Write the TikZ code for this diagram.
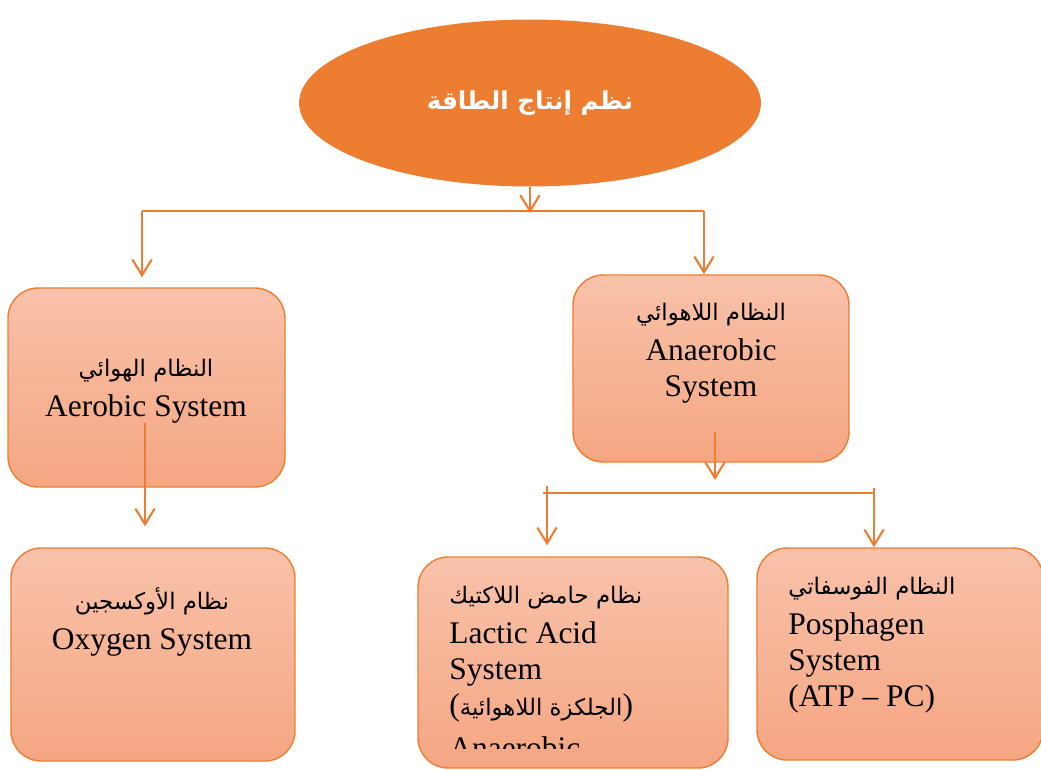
\documentclass[tikz,border=0pt]{standalone}
\usepackage{fontspec}
\setmainfont{Liberation Serif}
\newfontfamily\arabicfont[Script=Arabic]{DejaVu Sans}
\TeXXeTstate=1
\usetikzlibrary{arrows.meta,calc,shapes.geometric}
\usetikzlibrary{positioning}
\definecolor{accorange}{RGB}{237,125,49}
\definecolor{peachtop}{RGB}{248,194,170}
\definecolor{peachbot}{RGB}{245,166,130}
\newcommand{\ar}[1]{{\arabicfont\fontsize{13}{16}\selectfont\beginR #1\endR}}

\begin{document}
\begin{tikzpicture}[x=0.02cm,y=-0.02cm,>={Straight Barb[length=9pt,width=11pt]}]
\tikzset{sysbox/.style={draw=accorange,line width=0.8pt,rounded corners=0.6cm,top color=peachtop,bottom color=peachbot},
  systext/.style={font=\fontsize{17.9}{20.4}\selectfont,inner sep=0pt},
  link/.style={draw=accorange,line width=1.2pt}}
\useasboundingbox (0,0) rectangle (1041,769);
% title
\node[ellipse,fill=accorange,minimum width=9.24cm,minimum height=3.34cm] (title) at (530,103)
  {\raisebox{3.4pt}{\color{white}\bfseries\arabicfont\fontsize{14}{17}\selectfont\beginR نظم إنتاج الطاقة\endR}};
% boxes
\node[sysbox,minimum width=5.54cm,minimum height=3.98cm] (aerobic) at (146.5,387.5) {};
\node[sysbox,minimum width=5.52cm,minimum height=3.74cm] (anaerobic) at (711,368.5) {};
\node[sysbox,minimum width=5.68cm,minimum height=4.26cm] (oxygen) at (153,654.5) {};
\node[sysbox,minimum width=6.2cm,minimum height=4.22cm] (lactic) at (573,662.5) {};
\node[sysbox,minimum width=5.72cm,minimum height=4.24cm] (phos) at (900,654) {};
% texts
\node[systext,align=center,anchor=north] (aerobic-t) at (146,358.5) {\ar{النظام الهوائي}\\[2.5pt]Aerobic System};
\node[systext,align=center,anchor=north] (anaerobic-t) at (711,303) {\ar{النظام اللاهوائي}\\[2.5pt]Anaerobic\\System};
\node[systext,align=center,anchor=north] (oxygen-t) at (152,587) {\ar{نظام الأوكسجين}\\[2.5pt]Oxygen System};
\begin{scope}
\clip (418,557) rectangle (728,748);
\node[systext,align=left,anchor=north west] (lactic-t) at (449,585.5) {\ar{نظام حامض اللاكتيك}\\[2.5pt]Lactic Acid\\System\\(\ar{الجلكزة اللاهوائية})\\[4pt]Anaerobic};
\end{scope}
\node[systext,align=left,anchor=north west] (phos-t) at (788,577) {\ar{النظام الفوسفاتي}\\[2.5pt]Posphagen\\System\\(ATP -- PC)};
% top split
\coordinate (split) at (530,213);
\coordinate (splitL) at (142,211);
\coordinate (splitR) at (704,211);
\draw[link,->] (title.south) -- (split);
\draw[link] (splitL) -- (splitR);
\draw[link,->,shorten >=0.2cm] (splitL) -- (splitL |- aerobic.north);
\draw[link,->] (splitR) -- (splitR |- anaerobic.north);
% aerobic to oxygen
\coordinate (aerobicout) at (145,423);
\draw[link,->,shorten >=0.42cm] (aerobicout) -- (aerobicout |- oxygen.north);
% anaerobic split
\coordinate (anaerout) at (715,432);
\coordinate (fork) at (715,480);
\coordinate (forkL) at (547,493);
\coordinate (forkR) at (874,493);
\draw[link,->] (anaerout) -- (fork);
\draw[link] ($(forkL)+(-4,0)$) -- (forkR);
\draw[link,->,shorten >=0.22cm] ($(forkL)+(0,-7)$) -- (forkL |- lactic.north);
\draw[link,->] ($(forkR)+(0,-5)$) -- (forkR |- phos.north);
\end{tikzpicture}
\end{document}
